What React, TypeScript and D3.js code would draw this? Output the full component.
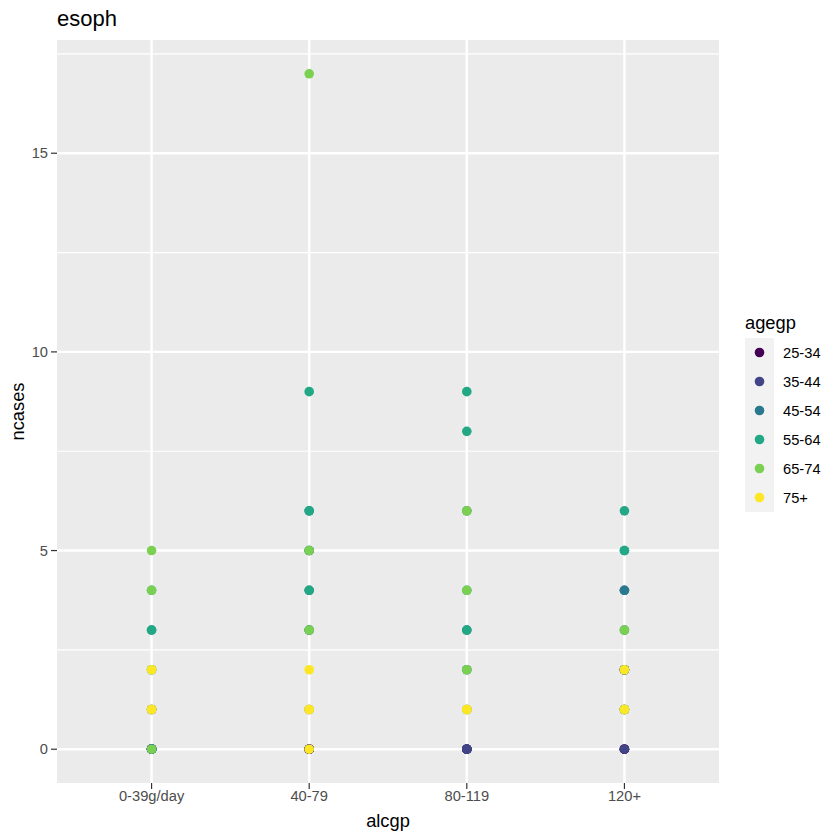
import React from 'react';
import * as d3 from 'd3';

// esoph: ncases by alcohol group, coloured by age group
const ageGroups = ['25-34', '35-44', '45-54', '55-64', '65-74', '75+'];
const alcGroups = ['0-39g/day', '40-79', '80-119', '120+'];
const ageColors = ['#440154', '#414487', '#2A788E', '#22A884', '#7AD151', '#FDE725'];
const yTicks = [0, 5, 10, 15];

// ncases per tobacco group, nested by alcgp, one array per age group
const cases25_34 = [[0, 0, 0, 0], [0, 0, 0, 0], [0, 0, 0], [0, 1, 0, 0]];
const cases35_44 = [[0, 1, 0, 0], [0, 3, 1, 0], [0, 0, 0, 0], [2, 0, 2]];
const cases45_54 = [[1, 0, 0, 0], [6, 4, 5, 5], [3, 6, 1, 2], [4, 3, 2, 4]];
const cases55_64 = [[2, 3, 3, 4], [9, 6, 4, 3], [9, 8, 3, 4], [5, 6, 2, 5]];
const cases65_74 = [[5, 4, 2, 0], [17, 3, 5], [6, 4, 2, 1], [3, 1, 1, 1]];
const cases75 = [[1, 2, 1], [2, 1, 0, 1], [1, 1], [2, 1]];
const casesByAge = [cases25_34, cases35_44, cases45_54, cases55_64, cases65_74, cases75];

const W = 840;
const H = 840;
const panel = { left: 57, right: 719, top: 40, bottom: 783 };
const font = 'Liberation Sans, Arial, Helvetica, sans-serif';

export default function App() {
	const rows = [];
	casesByAge.forEach((byAlc, ai) => {
		byAlc.forEach((vals, ci) => {
			vals.forEach((v) => rows.push({ age: ageGroups[ai], alc: alcGroups[ci], n: v }));
		});
	});

	const x = d3
		.scalePoint()
		.domain(alcGroups)
		.range([panel.left, panel.right])
		.padding(0.6);

	const yMax = d3.max(rows, (d) => d.n);
	const pad = yMax * 0.05;
	const y = d3
		.scaleLinear()
		.domain([-pad, yMax + pad])
		.range([panel.bottom, panel.top]);

	const color = d3.scaleOrdinal().domain(ageGroups).range(ageColors);

	const minor = [2.5, 7.5, 12.5, 17.5].filter((v) => v <= yMax + pad);

	const legX = 745;
	const legY = 338;
	const key = 29;

	return (
		<svg
			width={W}
			height={H}
			style={{ position: 'absolute', left: 0, top: 0, background: '#fff' }}
			fontFamily={font}
		>
			<rect
				x={panel.left}
				y={panel.top}
				width={panel.right - panel.left}
				height={panel.bottom - panel.top}
				fill="#EBEBEB"
			/>
			{minor.map((v) => (
				<line
					key={'mn' + v}
					x1={panel.left}
					x2={panel.right}
					y1={y(v)}
					y2={y(v)}
					stroke="#fff"
					strokeWidth={1.2}
				/>
			))}
			{yTicks.map((v) => (
				<line
					key={'my' + v}
					x1={panel.left}
					x2={panel.right}
					y1={y(v)}
					y2={y(v)}
					stroke="#fff"
					strokeWidth={2.4}
				/>
			))}
			{alcGroups.map((g) => (
				<line
					key={'mx' + g}
					x1={x(g)}
					x2={x(g)}
					y1={panel.top}
					y2={panel.bottom}
					stroke="#fff"
					strokeWidth={2.4}
				/>
			))}

			{rows.map((d, i) => (
				<circle key={i} cx={x(d.alc)} cy={y(d.n)} r={4.8} fill={color(d.age)} />
			))}

			{/* y axis */}
			{yTicks.map((v) => (
				<g key={'yt' + v}>
					<line x1={panel.left - 6} x2={panel.left} y1={y(v)} y2={y(v)} stroke="#333" strokeWidth={1.2} />
					<text x={panel.left - 9} y={y(v)} dy="0.35em" textAnchor="end" fontSize={14.7} fill="#4D4D4D">
						{v}
					</text>
				</g>
			))}
			{/* x axis */}
			{alcGroups.map((g) => (
				<g key={'xt' + g}>
					<line x1={x(g)} x2={x(g)} y1={panel.bottom} y2={panel.bottom + 6} stroke="#333" strokeWidth={1.2} />
					<text x={x(g)} y={panel.bottom + 18} textAnchor="middle" fontSize={14.7} fill="#4D4D4D">
						{g}
					</text>
				</g>
			))}

			<text x={(panel.left + panel.right) / 2} y={827} textAnchor="middle" fontSize={18.3} fill="#000">
				alcgp
			</text>
			<text
				transform={`translate(24,${(panel.top + panel.bottom) / 2}) rotate(-90)`}
				textAnchor="middle"
				fontSize={18.3}
				fill="#000"
			>
				ncases
			</text>
			<text x={panel.left} y={26} fontSize={22} fill="#000">
				esoph
			</text>

			{/* legend */}
			<text x={legX} y={329} fontSize={18.3} fill="#000">
				agegp
			</text>
			{ageGroups.map((a, i) => (
				<g key={'lg' + a} transform={`translate(${legX},${legY + i * key})`}>
					<rect width={key} height={key} fill="#F2F2F2" />
					<circle cx={key / 2} cy={key / 2} r={4.8} fill={color(a)} />
					<text x={key + 9} y={key / 2} dy="0.35em" fontSize={14.7} fill="#000">
						{a}
					</text>
				</g>
			))}
		</svg>
	);
}
